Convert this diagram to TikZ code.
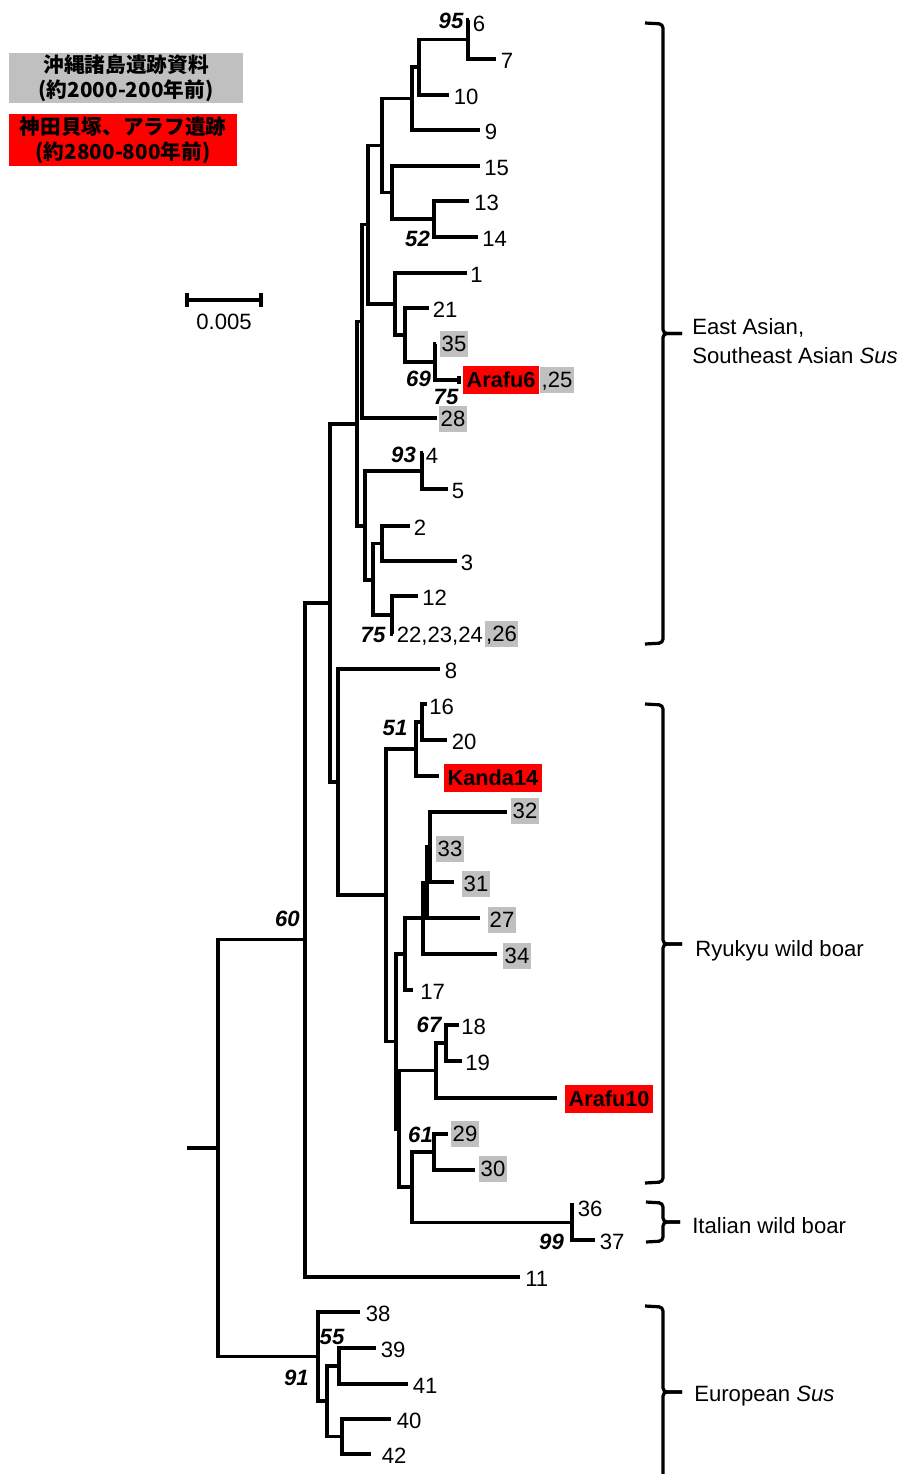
\documentclass[tikz,border=0pt]{standalone}
\usepackage{fontspec}
\setmainfont{Liberation Sans}
\newfontfamily\cjk{Noto Sans CJK JP}
\definecolor{boxgray}{RGB}{192,192,192}
\definecolor{boxred}{RGB}{255,0,0}
\tikzset{
  branchline/.style={line width=2.3pt, line join=miter},
  deepline/.style={line width=2.3pt, line join=miter},
  brk/.style={line width=2.4pt, rounded corners=3pt},
  lab/.style={font=\fontsize{16.6}{19.5}\selectfont, inner sep=0pt, anchor=west, text height=11.9pt, text depth=0pt},
  pl/.style={lab, yshift=-1.5pt},
  gbox/.style={lab, fill=boxgray, inner xsep=1.1pt, minimum height=19.5pt},
  rbox/.style={lab, fill=boxred, font=\fontsize{16.3}{19}\selectfont\bfseries, inner xsep=2.5pt, minimum height=21pt},
  bs/.style={font=\fontsize{16.6}{19.5}\selectfont\bfseries\itshape, inner sep=0pt, text height=11.9pt, text depth=0pt},
  grp/.style={font=\fontsize{16.6}{19.5}\selectfont, inner sep=0pt, anchor=base west},
  legbox/.style={font=\cjk\bfseries\fontsize{15.5}{18.75}\selectfont, align=center, inner sep=0pt, minimum height=37.5pt}
}
\begin{document}
\begin{tikzpicture}[x=0.75pt,y=-0.75pt]
\useasboundingbox (0,0) rectangle (904,1474);
\clip (0,0) rectangle (904,1474);

% ---------- internal nodes ----------
\coordinate (S) at (187,1148);
\coordinate (R) at (218,1148);
\coordinate (n60) at (305,939.75);
\coordinate (n330) at (330,603);
\coordinate (n357) at (357,424);
\coordinate (n362) at (362,321.4);
\coordinate (n368) at (368,224.75);
\coordinate (n382) at (382,145.5);
\coordinate (n412) at (412,98.5);
\coordinate (n419) at (419,67);
\coordinate (n95) at (468,39.5);
\coordinate (n392a) at (392,192.5);
\coordinate (n52) at (434,219);
\coordinate (n395) at (395,304);
\coordinate (n405a) at (405,335);
\coordinate (n69) at (435,362);
\coordinate (n75a) at (459,380);
\coordinate (n365) at (365,526);
\coordinate (n93) at (422,471);
\coordinate (n373) at (373,580);
\coordinate (n382b) at (382,543.5);
\coordinate (n75b) at (392,615);
\coordinate (n338) at (338,782);
\coordinate (n386) at (386,895);
\coordinate (n51) at (416,749);
\coordinate (n51s) at (422,722);
\coordinate (nA) at (396,1041.5);
\coordinate (nC) at (405,954);
\coordinate (nD) at (423,918);
\coordinate (nF) at (427,882.5);
\coordinate (nG) at (430,847);
\coordinate (nB) at (399,1129);
\coordinate (n436) at (436,1070.5);
\coordinate (n67) at (446,1043);
\coordinate (n412b) at (412,1187);
\coordinate (n61) at (434,1152);
\coordinate (n99) at (572,1222.5);
\coordinate (n91) at (318,1356.5);
\coordinate (n327) at (327,1401);
\coordinate (n55) at (339,1366);
\coordinate (n342) at (342,1436.5);

% ---------- leaf tips ----------
\coordinate (t6) at (469,20);
\coordinate (t7) at (496,59);
\coordinate (t10) at (449,95);
\coordinate (t9) at (480,130);
\coordinate (t15) at (480,166);
\coordinate (t13) at (469,201);
\coordinate (t14) at (478,237);
\coordinate (t1) at (467,273);
\coordinate (t21) at (429,308);
\coordinate (t35) at (436,344);
\coordinate (t28) at (437,418);
\coordinate (t4) at (423,453);
\coordinate (t5) at (448,489);
\coordinate (t2) at (410,526);
\coordinate (t3) at (457,561);
\coordinate (t12) at (418,596);
\coordinate (t22) at (393,634);
\coordinate (t8) at (440,669);
\coordinate (t16) at (427,704);
\coordinate (t20) at (447,740);
\coordinate (tK14) at (439,776);
\coordinate (t32) at (507,812);
\coordinate (t33) at (431,847);
\coordinate (t31) at (454,882);
\coordinate (t27) at (480,918);
\coordinate (t34) at (497,954);
\coordinate (t17) at (413,990);
\coordinate (t18) at (459,1025);
\coordinate (t19) at (462,1061);
\coordinate (tA10) at (557,1098);
\coordinate (t29) at (448,1134);
\coordinate (t30) at (475,1170);
\coordinate (t36) at (574,1205);
\coordinate (t37) at (595,1240);
\coordinate (t11) at (520,1277);
\coordinate (t38) at (360,1312);
\coordinate (t39) at (376,1348);
\coordinate (t41) at (408,1384);
\coordinate (t40) at (391,1419);
\coordinate (t42) at (371,1454);

% ---------- branches ----------
\draw[line width=2.9pt] (S) -- (R);
\draw[deepline] (R) |- (n60);
\draw[deepline] (R) |- (n91);
\draw[deepline] (n60) |- (n330);
\draw[deepline] (n60) |- (t11);
\foreach \p/\c in {n330/n357,n330/n338,n357/n362,n357/n365,n362/n368,n362/t28,%
n368/n382,n368/n395,n382/n412,n382/n392a,n412/n419,n412/t9,n419/n95,n419/t10,%
n95/t6,n95/t7,n392a/t15,n392a/n52,n52/t13,n52/t14,n395/t1,n395/n405a,%
n405a/t21,n405a/n69,n69/t35,n69/n75a,n365/n93,n365/n373,n93/t4,n93/t5,%
n373/n382b,n373/n75b,n382b/t2,n382b/t3,n75b/t12,n75b/t22,%
n338/t8,n338/n386,n386/n51,n386/nA,n51/n51s,n51/tK14,n51s/t16,n51s/t20,%
nA/nC,nA/nB,nC/nD,nC/t17,nD/nF,nD/t34,nF/nG,nF/t27,nG/t32,nG/t33,nG/t31,%
nB/n436,nB/n412b,n436/n67,n436/tA10,n67/t18,n67/t19,n412b/n61,n412b/n99,%
n61/t29,n61/t30,n99/t36,n99/t37,%
n91/t38,n91/n327,n327/n55,n327/n342,n55/t39,n55/t41,n342/t40,n342/t42}
  {\draw[branchline] (\p) |- (\c);}
\draw[branchline] ([yshift=3pt]n75a) -- ([yshift=-3pt]n75a);

% ---------- leaf labels ----------
\node[pl] (l6) at (472.5,22) {6};
\node[pl] (l7) at (500.5,59) {7};
\node[pl] (l10) at (453.5,95) {10};
\node[pl] (l9) at (484.5,130) {9};
\node[pl] (l15) at (484,166) {15};
\node[pl] (l13) at (474,201) {13};
\node[pl] (l14) at (482,237) {14};
\node[pl] (l1) at (470,273) {1};
\node[pl] (l21) at (432.5,308) {21};
\node[gbox] (l35) at (440,344) {35};
\node[rbox] (lA6) at (463,380) {Arafu6};
\node[gbox] (l25) at (540,380) {,25};
\node[gbox] (l28) at (439,419) {28};
\node[pl] (l4) at (425.5,453.5) {4};
\node[pl] (l5) at (451.5,489) {5};
\node[pl] (l2) at (413.5,526) {2};
\node[pl] (l3) at (460.5,561) {3};
\node[pl] (l12) at (422,596) {12};
\node[pl] (l22) at (396.5,633) {22,23,24};
\node[gbox] (l26) at (484.5,634) {,26};
\node[pl] (l8) at (444.5,669) {8};
\node[pl] (l16) at (429,705) {16};
\node[pl] (l20) at (451.5,740) {20};
\node[rbox] (lK14) at (444,778) {Kanda14};
\node[gbox] (l32) at (511,811) {32};
\node[gbox] (l33) at (436,849) {33};
\node[gbox] (l31) at (462,884) {31};
\node[gbox] (l27) at (488,920) {27};
\node[gbox] (l34) at (503,956) {34};
\node[pl] (l17) at (420,990) {17};
\node[pl] (l18) at (461,1025) {18};
\node[pl] (l19) at (465,1061) {19};
\node[rbox] (lA10) at (565,1099) {Arafu10};
\node[gbox] (l29) at (451,1134) {29};
\node[gbox] (l30) at (479,1169) {30};
\node[pl] (l36) at (577.5,1207) {36};
\node[pl] (l37) at (599.5,1240) {37};
\node[pl] (l11) at (525,1277) {11};
\node[pl] (l38) at (365.5,1312) {38};
\node[pl] (l39) at (380.5,1348) {39};
\node[pl] (l41) at (412.5,1384) {41};
\node[pl] (l40) at (396.5,1419) {40};
\node[pl] (l42) at (381.5,1454) {42};

% ---------- bootstrap values ----------
\node[bs] (b95) at (451,21) {95};
\node[bs] (b52) at (417.5,239) {52};
\node[bs] (b69) at (418.5,379) {69};
\node[bs] (b75a) at (446,397) {75};
\node[bs] (b93) at (403.5,454.5) {93};
\node[bs] (b75b) at (373,635) {75};
\node[bs] (b60) at (287.5,919) {60};
\node[bs] (b51) at (395,728) {51};
\node[bs] (b67) at (429,1024.5) {67};
\node[bs] (b61) at (420.5,1134.5) {61};
\node[bs] (b99) at (551.5,1242) {99};
\node[bs] (b55) at (332,1336.5) {55};
\node[bs] (b91) at (296.5,1378) {91};

% ---------- scale bar ----------
\coordinate (sb1) at (187,300);
\coordinate (sb2) at (261,300);
\draw[branchline] (sb1) -- (sb2);
\draw[branchline] ([yshift=5.5pt]sb1) -- ([yshift=-5.5pt]sb1);
\draw[branchline] ([yshift=5.5pt]sb2) -- ([yshift=-5.5pt]sb2);
\node[lab, anchor=center] (sbl) at (224,322) {0.005};

% ---------- legend ----------
\node[legbox, fill=boxgray, minimum width=175.5pt] (leg1) at (126,78) {沖縄諸島遺跡資料\\(約2000-200年前)};
\node[legbox, fill=boxred, minimum width=171pt, minimum height=39pt] (leg2) at (123,140) {神田貝塚、アラフ遺跡\\(約2800-800年前)};

% ---------- group brackets ----------
\draw[brk] (645,23) -- (663,24) -- (663,333.5) -- (682,333.5);
\draw[brk] (682,333.5) -- (663,333.5) -- (663,643) -- (645,644);
\node[grp] (g1a) at (692,334) {East Asian,};
\node[grp] (g1b) at (692,363) {Southeast Asian \textit{Sus}};

\draw[brk] (645,704) -- (663,705) -- (663,944) -- (682,944);
\draw[brk] (682,944) -- (663,944) -- (663,1182) -- (645,1183);
\node[grp] (g2) at (695,956) {Ryukyu wild boar};

\draw[brk] (646,1202) -- (663,1203) -- (663,1222) -- (680,1222);
\draw[brk] (680,1222) -- (663,1222) -- (663,1241) -- (646,1242);
\node[grp] (g3) at (692,1233) {Italian wild boar};

\draw[brk] (645,1306) -- (663,1307) -- (663,1392) -- (682,1392);
\draw[brk] (682,1392) -- (663,1392) -- (663,1490);
\node[grp] (g4) at (694,1401) {European \textit{Sus}};
\end{tikzpicture}
\end{document}
